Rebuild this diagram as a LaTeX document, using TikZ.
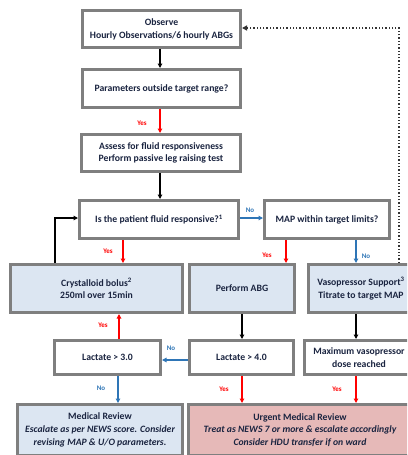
\documentclass[tikz,border=0pt]{standalone}
\usepackage{fontspec}
\setmainfont{Carlito}
\usetikzlibrary{arrows.meta}
\definecolor{txt}{HTML}{1A2440}
\definecolor{bord}{HTML}{7F7F7F}
\definecolor{lblue}{HTML}{DCE6F2}
\definecolor{lpink}{HTML}{E6B9B8}
\definecolor{ared}{HTML}{FF0000}
\definecolor{ablue}{HTML}{2E75B6}
\tikzset{
  box/.style={draw=bord, line width=3pt, rectangle, align=center, inner sep=1pt,
     font=\fontsize{9.7}{12.8}\selectfont\bfseries, text=txt, fill=white},
  bluebox/.style={box, fill=lblue},
  pinkbox/.style={box, fill=lpink},
  arr/.style={line width=1.4pt, -{Triangle[length=4.5pt,width=4.5pt]}},
  blk/.style={arr, draw=black},
  redarr/.style={arr, draw=ared},
  bluearr/.style={arr, draw=ablue},
  dotarr/.style={line width=1.3pt, dotted, draw=black!80, -{Triangle[length=5pt,width=5pt]}},
  ylab/.style={font=\fontsize{7}{8}\selectfont\bfseries, text=ared, inner sep=0pt},
  nlab/.style={font=\fontsize{7}{8}\selectfont\bfseries, text=ablue, inner sep=0pt},
}
\begin{document}
\begin{tikzpicture}[x=1pt,y=-1pt]
\useasboundingbox (0,0) rectangle (407,455);
\clip (0,0) rectangle (407,455);
\node[box, minimum width=158, minimum height=37] (obs) at (161.5,29) {Observe\\Hourly Observations/6 hourly ABGs};
\node[box, minimum width=158, minimum height=38] (param) at (161.5,88.5) {Parameters outside target range?};
\node[box, minimum width=159, minimum height=37] (assess) at (161,153) {Assess for fluid responsiveness\\Perform passive leg raising test};
\node[box, minimum width=159, minimum height=38] (fluid) at (159,219.5) {Is the patient fluid responsive?\textsuperscript{1}};
\node[box, minimum width=125, minimum height=38] (map) at (327,219.5) {MAP within target limits?};
\node[bluebox, minimum width=172, minimum height=48] (crys) at (96.5,288.5) {Crystalloid bolus\textsuperscript{2}\\250ml over 15min};
\node[bluebox, minimum width=105, minimum height=48] (abg) at (242,288.5) {Perform ABG};
\node[bluebox, minimum width=105, minimum height=48] (vaso) at (361,288.5) {Vasopressor Support\textsuperscript{3}\\Titrate to target MAP};
\node[box, minimum width=106, minimum height=34] (lac3) at (107.5,357.5) {Lactate > 3.0};
\node[box, minimum width=104, minimum height=34] (lac4) at (241.5,357.5) {Lactate > 4.0};
\node[box, minimum width=109, minimum height=34] (maxv) at (359,357.5) {Maximum vasopressor\\dose reached};
\node[bluebox, minimum width=165, minimum height=51] (med) at (100,430) {Medical Review\\\itshape Escalate as per NEWS score. Consider\\\itshape revising MAP \& U/O parameters.};
\node[pinkbox, minimum width=223, minimum height=51] (urg) at (300,430) {Urgent Medical Review\\\itshape Treat as NEWS 7 or more \& escalate accordingly\\\itshape Consider HDU transfer if on ward};

\draw[blk] (obs.south -| 160,0) -- (param.north -| 160,0);
\draw[redarr] (param.south -| 160,0) -- (assess.north -| 160,0);
\node[ylab] (y1) at (142,123) {Yes};
\draw[blk] (assess.south -| 160,0) -- (fluid.north -| 160,0);
\draw[bluearr] (fluid.east |- 0,218) -- (map.west |- 0,218);
\node[nlab] (n1) at (250,210) {No};
\draw[redarr] (fluid.south -| 123,0) -- (crys.north -| 123,0);
\node[ylab] (y2) at (108,251) {Yes};
\draw[redarr] (map.south -| 286,0) -- (abg.north -| 286,0);
\node[ylab] (y3) at (267,255) {Yes};
\draw[bluearr] (map.south -| 356,0) -- (vaso.north -| 356,0);
\node[nlab] (n2) at (366,256) {No};
\draw[blk] (crys.north -| 55,0) |- (fluid.west |- 0,218);
\draw[redarr] (lac3.north -| 119,0) -- (crys.south -| 119,0);
\node[ylab] (y4) at (103,325) {Yes};
\draw[blk] (abg.south -| 242,0) -- (lac4.north -| 242,0);
\draw[blk] (vaso.south -| 356,0) -- (maxv.north -| 356,0);
\draw[bluearr] (lac4.west |- 0,360) -- (lac3.east |- 0,360);
\node[nlab] (n3) at (171,348) {No};
\draw[bluearr] (lac3.south -| 118,0) -- (med.north -| 118,0);
\node[nlab] (n4) at (101,388) {No};
\draw[redarr] (lac4.south -| 242,0) -- (urg.north -| 242,0);
\node[ylab] (y5) at (224,389) {Yes};
\draw[redarr] (maxv.south -| 356,0) -- (urg.north -| 356,0);
\node[ylab] (y6) at (337,389) {Yes};
\draw[dotarr] (vaso.north -| 399,0) |- (obs.east |- 0,28);
\end{tikzpicture}
\end{document}
